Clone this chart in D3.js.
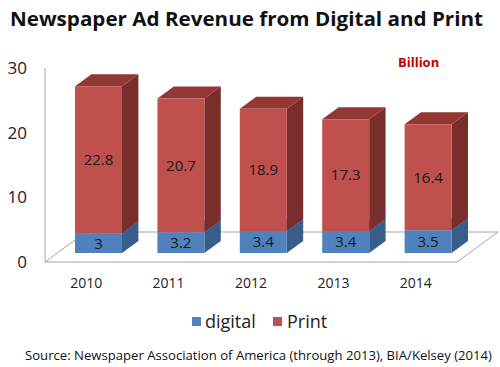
<!DOCTYPE html>
<html><head><meta charset="utf-8">
<script src="https://cdn.jsdelivr.net/npm/d3@7"></script>
<style>body{margin:0;background:#fff}svg{display:block}</style>
</head><body>
<script>
const years = ["2010","2011","2012","2013","2014"];
const digital = [3, 3.2, 3.4, 3.4, 3.5];
const print = [22.8, 20.7, 18.9, 17.3, 16.4];
const yTicks = [0, 10, 20, 30];
const seriesNames = ["digital", "Print"];

const W = 500, H = 367;
const svg = d3.select("body").append("svg").attr("width", W).attr("height", H);
const font = "'Open Sans', 'Noto Sans', sans-serif";

const colors = {
  digital: {front: "#4F81BD", side: "#385D8A", top: "#4470A6"},
  Print: {front: "#C0504D", side: "#7A2E2C", top: "#943634"}
};

const x = d3.scaleBand().domain(years).range([45, 457]).paddingInner(0.43).paddingOuter(0.215);
const y = d3.scaleLinear().domain([0, 30]).range([262, 68]);
const D = {dx: 41, dy: -30};
const t0 = 0.3, t1 = 0.7;
const P = (px, v, t) => [px + D.dx * t, y(v) + D.dy * t];

// Title
svg.append("text").attr("x", 10).attr("y", 26)
  .attr("font-family", font).attr("font-weight", "bold").attr("font-size", 20)
  .attr("textLength", 473).attr("lengthAdjust", "spacingAndGlyphs")
  .attr("fill", "#111").text("Newspaper Ad Revenue from Digital and Print");

svg.append("text").attr("x", 398).attr("y", 67)
  .attr("font-family", font).attr("font-weight", "bold").attr("font-size", 13)
  .attr("fill", "#C00000").text("Billion");

// Floor
const floorPts = [P(45, 0, 0), P(457, 0, 0), P(457, 0, 1), P(45, 0, 1)];
svg.append("path").attr("d", d3.line()(floorPts) + "Z")
  .attr("fill", "none").attr("stroke", "#a6a6a6").attr("stroke-width", 1);
// Vertical axis line
svg.append("line").attr("x1", 45).attr("x2", 45).attr("y1", y(0)).attr("y2", y(30))
  .attr("stroke", "#a6a6a6").attr("stroke-width", 1);

// Axis labels
const yAxis = d3.axisLeft(y).tickValues(yTicks).tickSize(0).tickPadding(18);
const ga = svg.append("g").attr("transform", "translate(45,0)").call(yAxis);
ga.select(".domain").remove();
ga.selectAll("text").attr("font-family", font).attr("font-size", 17).attr("fill", "#222");

// Category labels
const xAxis = d3.axisBottom(x).tickSize(0).tickPadding(16);
const gx = svg.append("g").attr("transform", "translate(0,262)").call(xAxis);
gx.select(".domain").remove();
gx.selectAll("text").attr("font-family", font).attr("font-size", 14).attr("fill", "#222");

// Bars
const table = years.map((yr, i) => ({year: yr, digital: digital[i], Print: print[i]}));
const stack = d3.stack().keys(seriesNames)(table);
const bw = x.bandwidth();
const line = d3.line();

years.forEach((yr, i) => {
  const g = svg.append("g");
  stack.forEach(s => {
    const [v0, v1] = s[i];
    const c = colors[s.key];
    const xl = x(yr), xr = x(yr) + bw;
    const front = [P(xl, v0, t0), P(xr, v0, t0), P(xr, v1, t0), P(xl, v1, t0)];
    const side = [P(xr, v0, t0), P(xr, v0, t1), P(xr, v1, t1), P(xr, v1, t0)];
    const top = [P(xl, v1, t0), P(xr, v1, t0), P(xr, v1, t1), P(xl, v1, t1)];
    g.append("path").attr("d", line(side) + "Z").attr("fill", c.side);
    g.append("path").attr("d", line(top) + "Z").attr("fill", c.top);
    g.append("path").attr("d", line(front) + "Z").attr("fill", c.front);
    const [cx] = P(xl + bw / 2, 0, t0);
    const cy = (P(0, v0, t0)[1] + P(0, v1, t0)[1]) / 2;
    g.append("text").attr("x", cx).attr("y", cy).attr("dy", "0.36em")
      .attr("text-anchor", "middle").attr("font-family", font).attr("font-size", 15)
      .attr("fill", "#1a1a1a").text(s.key === "digital" ? digital[i] : print[i]);
  });
});

// Legend
const legend = [{name: "digital", sx: 192, tx: 205}, {name: "Print", sx: 273, tx: 287}];
legend.forEach(l => {
  svg.append("rect").attr("x", l.sx).attr("y", 317).attr("width", 9).attr("height", 9)
    .attr("fill", colors[l.name].front);
  svg.append("text").attr("x", l.tx).attr("y", 328).attr("font-family", font)
    .attr("font-size", 18).attr("fill", "#222").text(l.name);
});

// Source
svg.append("text").attr("x", 25).attr("y", 360).attr("font-family", font)
  .attr("font-size", 13).attr("textLength", 467).attr("lengthAdjust", "spacingAndGlyphs")
  .attr("fill", "#111").text("Source: Newspaper Association of America (through 2013),  BIA/Kelsey (2014)");
</script>
</body></html>
